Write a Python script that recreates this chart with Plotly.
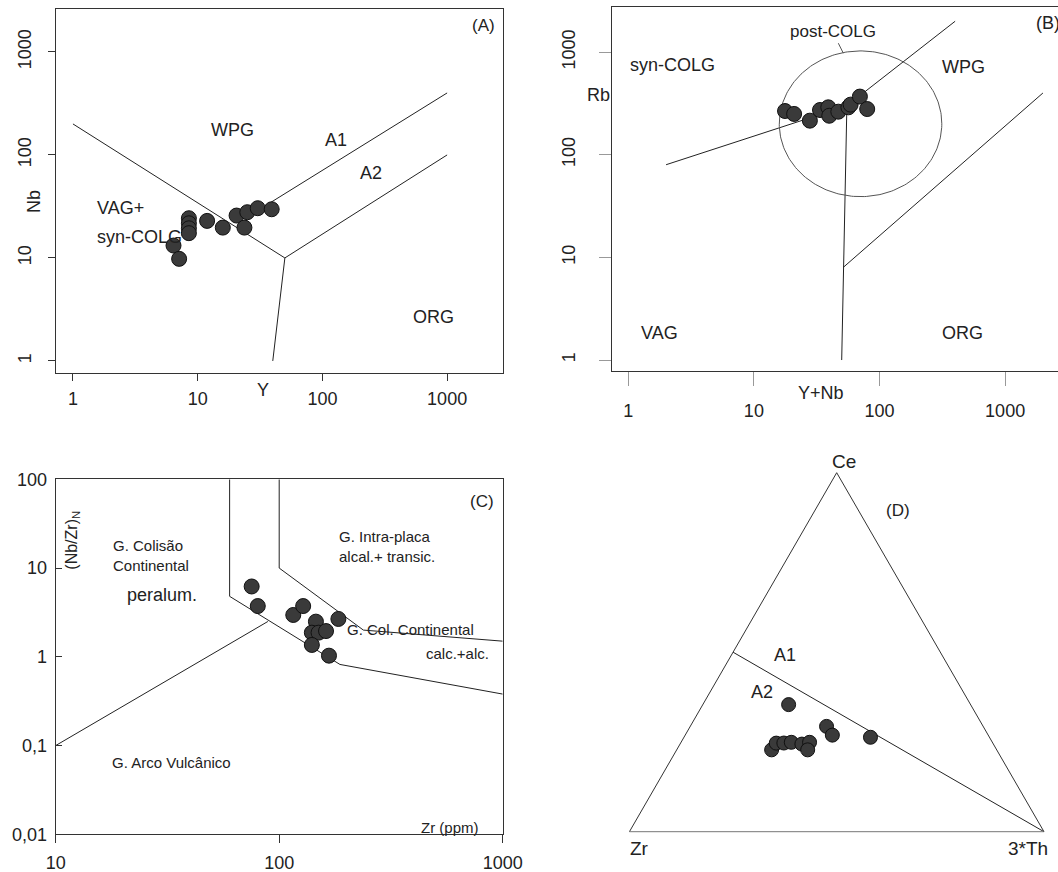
import numpy as np
import plotly.graph_objects as go

W, H = 1058, 872
FONT = "Liberation Sans, Arial, sans-serif"
INK = "#222222"

# ---------------- sample data ----------------
# (A) Nb vs Y (ppm)
a_y = [6.4, 7.1, 8.5, 8.5, 8.5, 8.5, 11.9, 15.9, 20.5, 23.7, 25.0, 30.3, 39.2]
a_nb = [13.2, 9.8, 24.3, 21.7, 19.4, 17.4, 22.9, 19.7, 25.8, 19.7, 27.8, 30.4, 29.7]

# (B) Rb vs Y+Nb (ppm)
b_ynb = [17.7, 20.9, 27.9, 33.6, 39.1, 39.8, 47.0, 56.5, 58.9, 69.8, 79.8]
b_rb = [267, 250, 215, 273, 290, 240, 263, 290, 308, 369, 279]

# (C) (Nb/Zr)N vs Zr (ppm)
c_zr = [75.3, 80.2, 115.6, 128, 146, 140, 150, 162, 140, 184, 167]
c_nbzr = [6.2, 3.73, 2.96, 3.73, 2.49, 1.87, 1.87, 1.95, 1.36, 2.67, 1.03]

# (D) Ce - Zr - 3*Th fractions
d_ce = [0.354, 0.2935, 0.269, 0.263, 0.228, 0.247, 0.247, 0.249, 0.244, 0.249, 0.228]
d_zr = [0.439, 0.378, 0.376, 0.287, 0.543, 0.523, 0.504, 0.485, 0.462, 0.441, 0.456]
d_th3 = [0.207, 0.329, 0.355, 0.450, 0.229, 0.231, 0.249, 0.266, 0.294, 0.310, 0.316]

# ---------------- field boundaries ----------------
# Pearce et al. Nb-Y
A_lines = [
    ([1, 50], [200, 10]),
    ([50, 1000], [10, 100]),
    ([50, 40], [10, 1]),
    ([25, 1000], [25, 400]),
]
# Pearce et al. Rb-(Y+Nb)
B_lines = [
    ([2, 55, 400], [80, 300, 2000]),
    ([55, 51.5, 50], [300, 8, 1]),
    ([51.5, 2000], [8, 400]),
]
# post-COLG field (ellipse in log space) and its label pointer
POST_CENTER = (1.849, 2.302)
POST_RADII = (0.647, 0.71)
POST_POINTER = ([47.0, 51.5], [1222, 977])
# Thiéblemont & Tégyey (Nb/Zr)N - Zr
C_lines = [
    ([100, 100, 238, 1000], [100, 10, 2.0, 1.5]),
    ([60, 60, 187, 1000], [100, 4.8, 0.82, 0.38]),
    ([10, 89], [0.1, 2.5]),
]
# A1 / A2 divide on the ternary (Ce = Zr towards 3*Th)
D_divide = dict(a=[0.5, 0.0], b=[0.5, 0.0], c=[0.0, 1.0])

MARKER = dict(size=15, color="#3a3a3a", line=dict(width=1, color="#111111"))
LINE = dict(color="#222222", width=1)

fig = go.Figure()

for xs, ys in A_lines:
    fig.add_trace(go.Scatter(x=xs, y=ys, mode="lines", line=LINE, xaxis="x", yaxis="y"))
fig.add_trace(go.Scatter(x=a_y, y=a_nb, mode="markers", marker=MARKER, xaxis="x", yaxis="y"))

for xs, ys in B_lines:
    fig.add_trace(go.Scatter(x=xs, y=ys, mode="lines", line=LINE, xaxis="x2", yaxis="y2"))
t = np.linspace(0, 2 * np.pi, 240)
fig.add_trace(go.Scatter(
    x=10 ** (POST_CENTER[0] + POST_RADII[0] * np.cos(t)),
    y=10 ** (POST_CENTER[1] + POST_RADII[1] * np.sin(t)),
    mode="lines", line=dict(color="#555555", width=1), xaxis="x2", yaxis="y2"))
fig.add_trace(go.Scatter(x=POST_POINTER[0], y=POST_POINTER[1], mode="lines",
                         line=dict(color="#555555", width=1), xaxis="x2", yaxis="y2"))
fig.add_trace(go.Scatter(x=b_ynb, y=b_rb, mode="markers", marker=MARKER, xaxis="x2", yaxis="y2"))

for xs, ys in C_lines:
    fig.add_trace(go.Scatter(x=xs, y=ys, mode="lines", line=LINE, xaxis="x3", yaxis="y3"))
fig.add_trace(go.Scatter(x=c_zr, y=c_nbzr, mode="markers", marker=MARKER, xaxis="x3", yaxis="y3"))

fig.add_trace(go.Scatterternary(a=D_divide["a"], b=D_divide["b"], c=D_divide["c"],
                                mode="lines", line=LINE, subplot="ternary"))
fig.add_trace(go.Scatterternary(a=d_ce, b=d_zr, c=d_th3, mode="markers",
                                marker=dict(size=14, color="#3a3a3a", line=dict(width=1, color="#111111")),
                                subplot="ternary"))


def px_x(p):
    return p / W


def px_y(p):
    return 1 - p / H


def log_axis(rng, dom, **kw):
    base = dict(type="log", range=rng, domain=dom, showgrid=False, zeroline=False,
                showline=True, linecolor="#333333", linewidth=1, mirror=True,
                automargin=False,
                tickfont=dict(family=FONT, size=18, color=INK),
                tickcolor="#333333", ticks="outside", ticklen=7)
    base.update(kw)
    return base


dec3 = [1, 10, 100, 1000]
dec4 = [0.01, 0.1, 1, 10, 100]


def tern_axis(color="#333333"):
    return dict(showticklabels=False, ticks="", showgrid=False, linecolor=color,
                linewidth=1, title=dict(text=""))


layout = dict(
    width=W, height=H, margin=dict(l=0, r=0, t=0, b=0, pad=0, autoexpand=False),
    paper_bgcolor="white", plot_bgcolor="white", showlegend=False,
    font=dict(family=FONT, color=INK),
    # (A)
    xaxis=log_axis([-0.136, 3.448], [px_x(56), px_x(503)], anchor="y",
                   tickvals=dec3, ticktext=[str(v) for v in dec3], ticklabelstandoff=2),
    yaxis=log_axis([-0.117, 3.417], [px_y(373), px_y(9)], anchor="x",
                   tickvals=dec3, ticktext=[str(v) for v in dec3], tickangle=-90,
                   ticklabelstandoff=10),
    # (B)
    xaxis2=log_axis([-0.132, 3.421], [px_x(611.7), 1.0], anchor="y2",
                    tickvals=dec3, ticktext=[str(v) for v in dec3], ticklen=14,
                    tickcolor="#999999", ticklabelstandoff=10),
    yaxis2=log_axis([-0.104, 3.437], [px_y(370.7), px_y(7.3)], anchor="x2", mirror=False,
                    tickvals=dec3, ticktext=[str(v) for v in dec3], tickangle=-90,
                    ticklen=12, tickcolor="#999999", ticklabelstandoff=17),
    # (C)
    xaxis3=log_axis([1, 3], [px_x(55.7), px_x(502.7)], anchor="y3",
                    tickvals=[10, 100, 1000], ticktext=["10", "100", "1000"], ticklen=8,
                    ticklabelstandoff=4),
    yaxis3=log_axis([-2, 2], [px_y(834.3), px_y(479.3)], anchor="x3",
                    tickvals=dec4, ticktext=["0,01", "0,1", "1", "10", "100"],
                    ticks="inside", ticklen=6, ticklabelstandoff=4),
    ternary=dict(
        domain=dict(x=[px_x(627.7), px_x(1045.7)], y=[px_y(831.7), px_y(831.7 - 359)]),
        sum=1, bgcolor="white",
        aaxis=tern_axis(),
        baxis=tern_axis("#777777"),
        caxis=tern_axis(),
    ),
)

annotations = []


def note(text, x, y, xref="paper", yref="paper", size=18, xanchor="center", angle=0, align="center"):
    annotations.append(dict(text=text, x=x, y=y, xref=xref, yref=yref, showarrow=False,
                            xanchor=xanchor, yanchor="middle", textangle=angle, align=align,
                            font=dict(family=FONT, size=size, color=INK)))


# (A) labels (positions in log10 data units)
note("WPG", 1.283, 2.243, "x", "y")
note("A1", 2.109, 2.146, "x", "y")
note("A2", 2.39, 1.825, "x", "y")
note("VAG+", 0.176, 1.483, "x", "y", xanchor="left")
note("syn-COLG", 0.176, 1.207, "x", "y", xanchor="left")
note("ORG", 2.887, 0.427, "x", "y")
note("(A)", 3.29, 3.26, "x", "y", size=17)
note("Nb", px_x(33.3), px_y(201.7), angle=-90)
note("Y", px_x(263.3), px_y(390))

# (B) labels
note("syn-COLG", 0.354, 2.875, "x2", "y2")
note("WPG", 2.667, 2.859, "x2", "y2")
note("VAG", 0.247, 0.26, "x2", "y2")
note("ORG", 2.659, 0.26, "x2", "y2")
note("post-COLG", 1.632, 3.2, "x2", "y2", size=17)
note("(B)", 3.23, 3.282, "x2", "y2", size=18, xanchor="left")
note("Rb", px_x(598.3), px_y(95))
note("Y+Nb", px_x(820.7), px_y(393.3))

# (C) labels
note("G. Colisão<br>Continental", 1.247, 1.136, "x3", "y3", size=15, xanchor="left", align="left")
note("peralum.", 1.31, 0.696, "x3", "y3", size=18, xanchor="left")
note("G. Intra-placa<br>alcal.+ transic.", 2.26, 1.241, "x3", "y3", size=15, xanchor="left", align="left")
note("G. Col. Continental", 2.294, 0.31, "x3", "y3", size=15, xanchor="left")
note("calc.+alc.", 2.648, 0.04, "x3", "y3", size=15, xanchor="left")
note("G. Arco Vulcânico", 1.243, -1.193, "x3", "y3", size=15, xanchor="left")
note("(C)", 2.906, 1.748, "x3", "y3", size=17)
note("Zr (ppm)", 2.764, -1.926, "x3", "y3", size=15)
note("(Nb/Zr)<sub>N</sub>", px_x(71.7), px_y(540), size=16, angle=-90)

# (D) labels
note("Ce", px_x(844.3), px_y(461.7), size=19)
note("Zr", px_x(639.3), px_y(848.3), size=19)
note("3*Th", px_x(1028.3), px_y(848.3), size=19)
note("(D)", px_x(897.7), px_y(510), size=17)
note("A1", px_x(785), px_y(655), size=18)
note("A2", px_x(762.3), px_y(691.7), size=18)

layout["annotations"] = annotations
fig.update_layout(**layout)

# page without default body margin so the figure fills the window exactly
fig.write_html("out.html", config={"displayModeBar": False},
               post_script="document.body.style.margin='0px';document.body.style.overflow='hidden';")
